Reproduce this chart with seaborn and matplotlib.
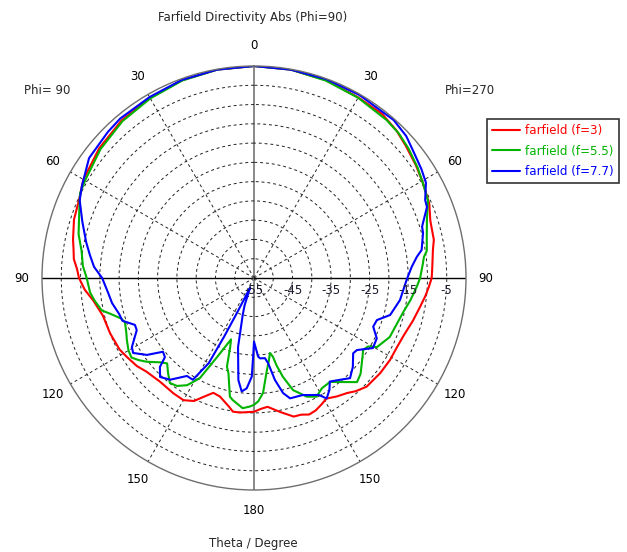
import numpy as np
import pandas as pd
import matplotlib
matplotlib.use("Agg")
import matplotlib.pyplot as plt
import seaborn as sns

# Farfield directivity cut, values in dB (normalised, 0 at top)
# theta 0..180 on the Phi=90 side (left) and on the Phi=270 side (right)
red_left_theta = [0, 10, 20, 30, 40, 50, 60, 66, 72, 78, 81, 84, 87, 90, 94, 98, 104, 111, 118,
                  122, 127, 131, 138, 145, 150, 154, 157, 160.5, 164, 169, 171, 174, 180]
red_left_db = [0, -0.1, -0.4, -1.0, -1.6, -2.6, -3.9, -5.3, -5.9, -7.0, -7.6, -8.0, -9.0, -9.6,
               -11.0, -12.9, -14.6, -15.0, -15.5, -16.2, -17.0, -18.0, -18.7, -18.5, -18.4, -19.5,
               -21.5, -23.4, -23.0, -21.0, -19.9, -19.9, -20.3]
red_right_theta = [0, 10, 20, 30, 38, 44, 49, 55, 60, 67, 72, 78, 81, 87, 90, 93, 96, 100, 105,
                   111, 116, 121, 127, 134, 138, 141, 145, 149, 152, 155, 158, 161, 164, 169,
                   174, 177, 180]
red_right_db = [0, -0.1, -0.4, -0.9, -1.0, -1.8, -2.8, -3.8, -4.6, -5.6, -6.9, -7.3, -8.0, -8.7,
                -8.9, -9.6, -10.3, -11.3, -12.3, -13.4, -13.8, -13.8, -14.0, -14.4, -15.5, -16.6,
                -17.5, -18.5, -17.8, -17.1, -16.8, -17.5, -17.6, -19.6, -21.4, -21.0, -20.3]

green_left_theta = [0, 10, 20, 30, 40, 50, 60, 64, 66, 71, 76, 81, 86, 90, 95, 98, 102, 104,
                    107, 109, 113, 116, 120, 123, 125.5, 128, 132, 134.5, 137.8, 141.3, 144.5,
                    148, 149.6, 151.6, 155, 158, 159.5, 161, 163, 165, 168.5, 170, 175, 178, 180]
green_left_db = [0, -0.1, -0.5, -1.2, -1.9, -3.0, -4.4, -4.8, -5.5, -7.0, -8.1, -9.7, -10.5,
                 -11.6, -12.3, -13.2, -14.6, -16.6, -19.0, -19.6, -19.0, -18.3, -17.4, -17.1,
                 -18.3, -19.7, -22.3, -23.4, -21.8, -20.1, -20.6, -22.2, -23.7, -25.5, -32.4,
                 -36.5, -38.0, -36.0, -31.0, -29.4, -23.6, -22.9, -21.1, -21.6, -22.1]
green_right_theta = [0, 10, 20, 30, 40, 45, 50, 56, 61, 66, 71.5, 77, 81, 83, 85, 90, 93, 98,
                     103, 108, 113.5, 119.3, 121, 123.4, 126, 128.2, 132, 135.3, 139.5, 143.8,
                     148.4, 152.2, 156, 158.3, 160.8, 163.7, 165.5, 166.5, 168, 170, 172, 175.5,
                     178, 180]
green_right_db = [0, -0.1, -0.5, -1.0, -1.5, -1.9, -2.7, -3.8, -4.8, -5.6, -7.7, -9.0, -9.6,
                  -10.6, -11.0, -11.9, -12.7, -14.0, -15.3, -16.1, -16.6, -18.4, -20.5, -21.1,
                  -20.2, -19.4, -17.8, -17.0, -19.5, -21.6, -21.4, -20.2, -21.3, -22.8, -24.2,
                  -28.3, -31.5, -34.0, -35.1, -33.0, -30.9, -25.1, -23.0, -22.1]

blue_left_theta = [0, 10, 20, 30, 40, 45, 54, 62, 66, 72, 78, 82, 86, 90, 96, 100, 105, 108,
                   111.5, 114, 119.5, 121.8, 125.7, 129, 131.6, 133.4, 136.5, 140.5, 145.6, 149,
                   152, 153, 154, 155.5, 158, 161, 163, 167, 171.3, 173.8, 176.2, 178.7, 179.5,
                   180]
blue_left_db = [0, -0.1, -0.3, -0.8, -1.0, -1.4, -2.1, -4.4, -5.5, -8.2, -10.5, -12.0, -13.4,
                -15.6, -17.0, -17.6, -18.8, -19.1, -21.8, -21.7, -18.6, -18.1, -20.8, -24.6,
                -24.1, -21.4, -19.6, -20.8, -24.2, -24.2, -30.0, -38.0, -45.0, -50.0, -52.3,
                -47.5, -45.0, -36.6, -28.2, -25.4, -26.3, -29.4, -35.4, -38.5]
blue_right_theta = [0, 10, 20, 30, 41.5, 47, 52, 57, 61, 65.5, 67.7, 73, 75, 80.5, 82.6, 86,
                    90.7, 98.6, 105.2, 108.9, 112.2, 116.2, 120.5, 125, 127.2, 132, 136.2, 140,
                    143.8, 146, 148.9, 151, 153.2, 155.8, 157.3, 160.2, 163.3, 165.8, 168.4,
                    170.6, 172.2, 175.7, 177, 180]
blue_right_db = [0, -0.1, -0.1, -0.2, -0.3, -1.0, -2.3, -3.2, -4.0, -6.2, -6.5, -9.4, -9.6,
                 -10.9, -12.4, -14.0, -15.4, -16.7, -18.4, -21.3, -21.6, -19.5, -19.2, -22.4,
                 -22.7, -20.5, -19.0, -20.5, -21.7, -20.0, -18.5, -20.3, -21.0, -21.7, -22.1,
                 -22.3, -22.4, -24.2, -28.0, -32.6, -34.0, -34.1, -34.6, -38.5]

series_names = ["farfield (f=3)", "farfield (f=5.5)", "farfield (f=7.7)"]
series_colors = ["#ff0000", "#00b400", "#0000ff"]

angle_ticks = list(range(0, 360, 30))
angle_labels = ["0", "30", "60", "90", "120", "150", "180", "150", "120", "90", "60", "30"]
r_labels = [-55, -45, -35, -25, -15, -5]


def full_cut(left_theta, left_db, right_theta, right_db):
    # left half drawn counter-clockwise from top, right half mirrored
    ang = list(left_theta) + [360 - t for t in reversed(right_theta)]
    val = list(left_db) + list(reversed(right_db))
    return pd.DataFrame({"angle": np.deg2rad(ang), "db": val})


curves = [
    full_cut(red_left_theta, red_left_db, red_right_theta, red_right_db),
    full_cut(green_left_theta, green_left_db, green_right_theta, green_right_db),
    full_cut(blue_left_theta, blue_left_db, blue_right_theta, blue_right_db),
]

sns.set_style("white")
plt.rcParams["font.family"] = ["DejaVu Sans"]
plt.rcParams["font.size"] = 8.5

fig = plt.figure(figsize=(6.27, 5.52), dpi=100)
ax = fig.add_axes([42 / 627, 62 / 552, 424 / 627, 424 / 552], projection="polar")
ax.set_theta_zero_location("N")
ax.set_theta_direction(1)

for df, name, col in zip(curves, series_names, series_colors):
    sns.lineplot(data=df, x="angle", y="db", ax=ax, sort=False, estimator=None,
                 color=col, lw=1.5, label=name)

ax.set_ylim(-55, 0)
ax.set_yticks(np.arange(-50, 0, 5))
ax.set_yticklabels([])
ax.set_thetagrids(angle_ticks, angle_labels)
ax.tick_params(axis="x", pad=4, labelsize=8.5, colors="black")
ax.set_xlabel("")
ax.set_ylabel("")
ax.grid(True, linestyle=(0, (3, 3)), color="#222222", lw=0.7)

# main axes through the centre
glines = ax.xaxis.get_gridlines()
for i in (3, 9):
    glines[i].set_linestyle("-")
    glines[i].set_color("black")
    glines[i].set_linewidth(1.0)
for i in (0, 6):
    glines[i].set_linestyle("-")
    glines[i].set_color("#7f7f7f")
    glines[i].set_linewidth(1.3)

ax.spines["polar"].set_color("#6e6e6e")
ax.spines["polar"].set_linewidth(1.0)

for v in r_labels:
    ax.annotate(str(v), xy=(np.deg2rad(270), v), xytext=(0, -4), textcoords="offset points",
                ha="center", va="top", fontsize=8.5, color="#1a1a2a")

ax.get_legend().remove()
leg = fig.legend(loc="upper left", bbox_to_anchor=(487 / 627, 1 - 119 / 552),
                 borderaxespad=0, frameon=True, fancybox=False, edgecolor="black",
                 fontsize=8.6, handlelength=2.3, handletextpad=0.45, labelspacing=0.6,
                 borderpad=0.45)
leg.get_frame().set_linewidth(1.2)
for txt, col in zip(leg.get_texts(), series_colors):
    txt.set_color(col)

fig.text(253 / 627, 1 - 17 / 552, "Farfield Directivity Abs (Phi=90)", ha="center", va="center",
         fontsize=8.5)
fig.text(253 / 627, 1 - 543 / 552, "Theta / Degree", ha="center", va="center", fontsize=8.5)
fig.text(47 / 627, 1 - 90 / 552, "Phi= 90", ha="center", va="center", fontsize=8.5)
fig.text(470 / 627, 1 - 90 / 552, "Phi=270", ha="center", va="center", fontsize=8.5)

fig.savefig("out.png", dpi=100)
